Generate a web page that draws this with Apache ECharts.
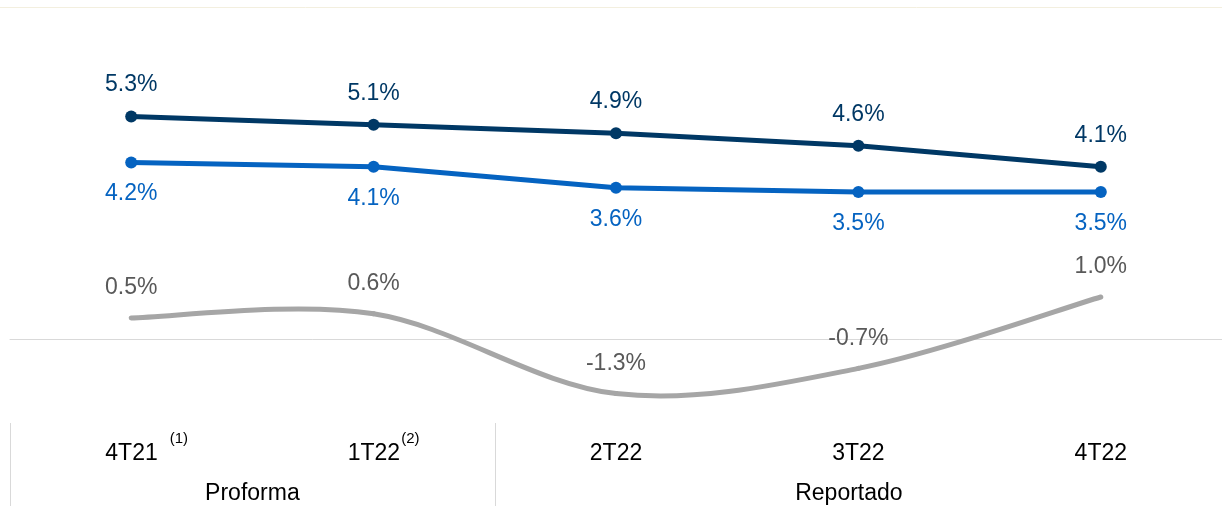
<!DOCTYPE html>
<html>
<head>
<meta charset="utf-8">
<script src="https://cdn.jsdelivr.net/npm/echarts@6/dist/echarts.min.js"></script>
<style>
  html, body { margin: 0; padding: 0; background: #fff; }
  #chart { width: 1222px; height: 506px; }
</style>
</head>
<body>
<div id="chart"></div>
<script>
const categories = ["4T21", "1T22", "2T22", "3T22", "4T22"];
const superscripts = ["(1)", "(2)", "", "", ""];
const groupNames = ["Proforma", "Reportado"];
const groupSpans = [[0, 1], [2, 4]];

const serieAlta = [5.3, 5.1, 4.9, 4.6, 4.1];
const serieMedia = [4.2, 4.1, 3.6, 3.5, 3.5];
const serieBaja = [0.5, 0.6, -1.3, -0.7, 1.0];

const FONT = "Liberation Sans";
const FS = 23;
const DARK = "#003865";
const BLUE = "#0563c1";
const GREY = "#a6a6a6";

function pct(p) {
  return `${p.value.toFixed(1)}%`;
}

function categoryLabel(value, idx) {
  const sup = superscripts[idx];
  if (!sup) return `{m|${value}}`;
  return `{m${idx}|${value}}{s${idx}|${sup}}`;
}

// Excel-like smoothed line (Catmull-Rom), drawn once through the axis scales
function renderSmooth(params, api) {
  if (params.dataIndex !== 0) return null;
  const pts = serieBaja.map((v, i) => api.coord([i, v]));
  const n = pts.length;
  const tan = pts.map((p, i) => {
    const a = pts[Math.max(i - 1, 0)];
    const b = pts[Math.min(i + 1, n - 1)];
    return [(b[0] - a[0]) / 6, (b[1] - a[1]) / 6];
  });
  const children = [];
  for (let i = 0; i < n - 1; i++) {
    children.push({
      type: "bezierCurve",
      shape: {
        x1: pts[i][0], y1: pts[i][1],
        cpx1: pts[i][0] + tan[i][0], cpy1: pts[i][1] + tan[i][1],
        cpx2: pts[i + 1][0] - tan[i + 1][0], cpy2: pts[i + 1][1] - tan[i + 1][1],
        x2: pts[i + 1][0], y2: pts[i + 1][1],
      },
      style: { stroke: GREY, lineWidth: 5, fill: null, lineCap: "round" },
    });
  }
  return { type: "group", children };
}

const mainText = { fontSize: FS, lineHeight: 46, color: "#000", fontFamily: FONT };
const supText = { fontSize: 15, lineHeight: 15, verticalAlign: "top", color: "#000", fontFamily: FONT };

const chart = echarts.init(document.getElementById("chart"));

chart.setOption({
  animation: false,
  grid: { left: 10, right: 0, top: 3, bottom: 83 },
  xAxis: [
    {
      type: "category",
      position: "top",
      data: categories,
      axisLine: { onZero: true, lineStyle: { color: "#d9d9d9", width: 1 } },
      axisTick: { show: false },
      axisLabel: { show: false },
    },
    {
      type: "category",
      position: "bottom",
      data: categories,
      axisLine: { show: false },
      axisTick: {
        show: true,
        length: 83,
        interval: (idx) => idx === 0 || idx === 2,
        lineStyle: { color: "#d9d9d9", width: 1 },
      },
      axisLabel: {
        margin: 8,
        formatter: categoryLabel,
        rich: {
          m: mainText,
          m0: Object.assign({}, mainText, { padding: [0, 0, 0, 31] }),
          s0: Object.assign({}, supText, { padding: [0, 0, 0, 12] }),
          m1: Object.assign({}, mainText, { padding: [0, 0, 0, 20] }),
          s1: Object.assign({}, supText, { padding: [0, 0, 0, 1] }),
        },
      },
    },
  ],
  yAxis: {
    type: "value",
    min: -2,
    max: 8,
    show: false,
    splitLine: { show: false },
  },
  series: [
    {
      type: "custom",
      data: serieBaja.map((v, i) => [i, v]),
      renderItem: renderSmooth,
      silent: true,
      z: 1,
    },
    {
      type: "line",
      data: serieBaja,
      symbol: "circle",
      symbolSize: 1,
      lineStyle: { width: 0, opacity: 0 },
      itemStyle: { color: GREY },
      z: 2,
      label: {
        show: true,
        position: "top",
        distance: 18,
        formatter: pct,
        color: "#595959",
        fontSize: FS,
        fontFamily: FONT,
      },
    },
    {
      type: "line",
      data: serieMedia,
      symbol: "circle",
      symbolSize: 12,
      lineStyle: { color: BLUE, width: 5 },
      itemStyle: { color: BLUE },
      z: 3,
      label: {
        show: true,
        position: "bottom",
        distance: 14,
        formatter: pct,
        color: BLUE,
        fontSize: FS,
        fontFamily: FONT,
      },
    },
    {
      type: "line",
      data: serieAlta,
      symbol: "circle",
      symbolSize: 12,
      lineStyle: { color: DARK, width: 5 },
      itemStyle: { color: DARK },
      z: 4,
      label: {
        show: true,
        position: "top",
        distance: 14,
        formatter: pct,
        color: DARK,
        fontSize: FS,
        fontFamily: FONT,
      },
    },
  ],
});

// group captions, centred on the span they cover (right span ends before the edge)
const band = chart.convertToPixel({ xAxisIndex: 1 }, 1) - chart.convertToPixel({ xAxisIndex: 1 }, 0);
const captionRight = 1203;
const groupX = groupSpans.map(([a, b], i) => {
  const left = chart.convertToPixel({ xAxisIndex: 1 }, a) - band / 2;
  const right = i === groupSpans.length - 1
    ? captionRight
    : chart.convertToPixel({ xAxisIndex: 1 }, b) + band / 2;
  return (left + right) / 2;
});

chart.setOption({
  graphic: [
    {
      type: "line",
      shape: { x1: 0, y1: 7.5, x2: 1222, y2: 7.5 },
      style: { stroke: "#f3efdf", lineWidth: 1 },
      silent: true,
    },
  ].concat(
    groupNames.map((name, i) => ({
      type: "text",
      x: groupX[i],
      y: 494,
      style: {
        text: name,
        fontSize: FS,
        fontFamily: FONT,
        fill: "#000",
        align: "center",
        verticalAlign: "middle",
      },
      silent: true,
    }))
  ),
});
</script>
</body>
</html>
